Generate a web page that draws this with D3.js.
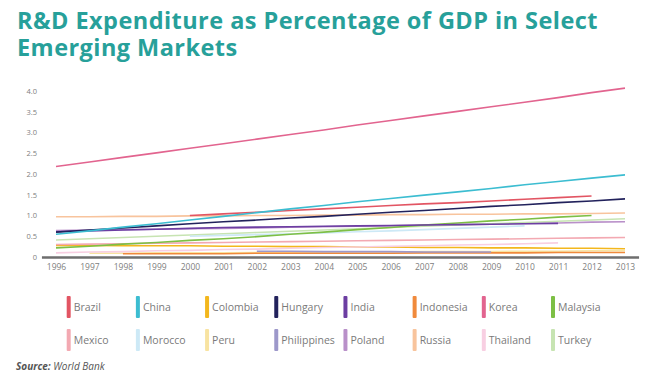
<!DOCTYPE html>
<html><head><meta charset="utf-8">
<script src="https://cdn.jsdelivr.net/npm/d3@7"></script>
<style>body{margin:0;background:#fff}svg{display:block}</style>
</head><body>
<svg id="c" width="653" height="385"></svg>
<script>
const years = d3.range(1996, 2014);
const yTicks = [0, 0.5, 1.0, 1.5, 2.0, 2.5, 3.0, 3.5, 4.0];
const countries = ["Brazil","China","Colombia","Hungary","India","Indonesia","Korea","Malaysia",
                   "Mexico","Morocco","Peru","Philippines","Poland","Russia","Thailand","Turkey"];
const colors = ["#e25563","#3cbdd1","#f3b71d","#22225c","#6c3ea2","#f08a3c","#e2648f","#7dbf45",
                "#f3a9b2","#cde9f6","#f8e3a1","#9d98ca","#b990c9","#f8c49d","#f8cfe2","#c7e4b2"];
// values 1996..2013 (null = no data)
const Brazil     = [null,null,null,null,1.00,1.04,1.08,1.12,1.16,1.20,1.24,1.28,1.31,1.35,1.39,1.43,1.47,null];
const China      = [0.55,0.63,0.72,0.80,0.89,0.98,1.07,1.16,1.24,1.33,1.41,1.49,1.57,1.65,1.74,1.82,1.90,1.98];
const Colombia   = [0.28,0.28,0.27,0.27,0.27,0.26,0.26,0.25,0.25,0.24,0.24,0.23,0.23,0.22,0.22,0.21,0.21,0.20];
const Hungary    = [0.60,0.65,0.70,0.75,0.80,0.85,0.89,0.94,0.98,1.03,1.08,1.12,1.17,1.22,1.26,1.31,1.35,1.40];
const India      = [0.61,0.63,0.65,0.67,0.69,0.71,0.72,0.73,0.74,0.75,0.76,0.77,0.78,0.79,0.80,0.81,null,null];
const Indonesia  = [null,null,0.08,0.08,0.08,0.08,0.09,0.09,0.09,0.09,0.09,0.10,0.10,0.10,0.10,0.11,0.11,0.11];
const Korea      = [2.18,2.29,2.40,2.51,2.62,2.73,2.84,2.95,3.06,3.18,3.29,3.40,3.51,3.62,3.73,3.84,3.96,4.07];
const Malaysia   = [0.22,0.26,0.31,0.35,0.40,0.44,0.49,0.55,0.60,0.66,0.71,0.77,0.82,0.87,0.91,0.96,1.00,null];
const Mexico     = [0.30,0.31,0.32,0.33,0.34,0.35,0.36,0.37,0.38,0.39,0.40,0.41,0.42,0.43,0.44,0.45,0.46,0.47];
const Morocco    = [null,null,null,null,0.50,0.52,0.54,0.56,0.58,0.61,0.63,0.66,0.69,0.72,0.75,null,null,null];
const Peru       = [null,0.09,0.09,0.10,0.10,0.10,0.11,0.11,0.11,0.12,0.12,0.13,0.13,0.13,0.14,0.14,0.15,0.15];
const Philippines= [null,null,null,null,null,null,0.14,0.14,0.13,0.13,0.13,0.12,0.12,0.12,null,null,null,null];
const Poland     = [0.64,0.65,0.66,0.67,0.68,0.69,0.70,0.72,0.73,0.74,0.75,0.77,0.78,0.79,0.81,0.82,0.84,0.85];
const Russia     = [0.97,0.97,0.98,0.98,0.99,0.99,1.00,1.00,1.01,1.01,1.02,1.02,1.03,1.03,1.04,1.04,1.05,1.06];
const Thailand   = [0.10,0.12,0.13,0.15,0.16,0.18,0.19,0.21,0.23,0.24,0.26,0.27,0.29,0.30,0.32,0.34,null,null];
const Turkey     = [0.41,0.44,0.47,0.50,0.53,0.56,0.59,0.62,0.65,0.68,0.71,0.74,0.77,0.80,0.83,0.86,0.89,0.92];
const seriesValues = [Brazil,China,Colombia,Hungary,India,Indonesia,Korea,Malaysia,
                      Mexico,Morocco,Peru,Philippines,Poland,Russia,Thailand,Turkey];

const svg = d3.select("#c");
const font = "'Open Sans', sans-serif";

// title
const title = svg.append("text").attr("font-family", font).attr("font-weight", 700)
  .attr("font-size", 23.5).attr("letter-spacing", 0.45).attr("fill", "#27a09a");
title.append("tspan").attr("x", 17).attr("y", 28.5).text("R&D Expenditure as Percentage of GDP in Select");
title.append("tspan").attr("x", 17).attr("y", 55.5).text("Emerging Markets");

const x = d3.scaleLinear().domain([1996, 2013]).range([56, 625]);
const y = d3.scaleLinear().domain([0, 4]).range([257, 91]);

// y labels
const ya = svg.append("g").attr("transform", "translate(37,0)")
  .call(d3.axisLeft(y).tickValues(yTicks).tickSize(0).tickPadding(0)
        .tickFormat(d => d === 0 ? "0" : d3.format(".1f")(d)));
ya.select(".domain").remove();
ya.selectAll("text").attr("font-family", font).attr("font-size", 7.5).attr("fill", "#808080");

// x labels
const xa = svg.append("g").attr("transform", "translate(0,264)")
  .call(d3.axisBottom(x).tickValues(years).tickSize(0).tickPadding(0).tickFormat(d3.format("d")));
xa.select(".domain").remove();
xa.selectAll("text").attr("font-family", font).attr("font-size", 8.5).attr("fill", "#808080");

// lines
const line = d3.line().defined(d => d[1] != null).x(d => x(d[0])).y(d => y(d[1]));
const order = [12, 15, 9, 10, 2, 5, 11, 14, 8, 7, 4, 13, 3, 0, 1, 6];
order.forEach(i => {
  svg.append("path").datum(years.map((yr, k) => [yr, seriesValues[i][k]]))
    .attr("d", line).attr("fill", "none").attr("stroke", colors[i]).attr("stroke-width", 1.6);
});

// baseline
svg.append("line").attr("x1", x(1995.58)).attr("x2", x(2013.42)).attr("y1", y(0) + 0.5).attr("y2", y(0) + 0.5)
  .attr("stroke", "#6e6e6e").attr("stroke-width", 2.5);

// legend
const lx = d3.scalePoint().domain(d3.range(8)).range([66.7, 551]);
countries.forEach((c, i) => {
  const col = i % 8, row = Math.floor(i / 8);
  const g = svg.append("g").attr("transform", `translate(${lx(col)},${296 + row * 33})`);
  g.append("rect").attr("width", 4).attr("height", 22).attr("rx", 1).attr("fill", colors[i]);
  g.append("text").attr("x", 7).attr("y", 15).attr("font-family", font).attr("font-size", 10.5)
    .attr("fill", "#7a7a7a").text(c);
});

// source
const src = svg.append("text").attr("x", 16).attr("y", 370).attr("font-family", font)
  .attr("font-size", 10).attr("font-style", "italic").attr("fill", "#555");
src.append("tspan").attr("font-weight", 700).text("Source:");
src.append("tspan").text(" World Bank");
</script>
</body></html>
